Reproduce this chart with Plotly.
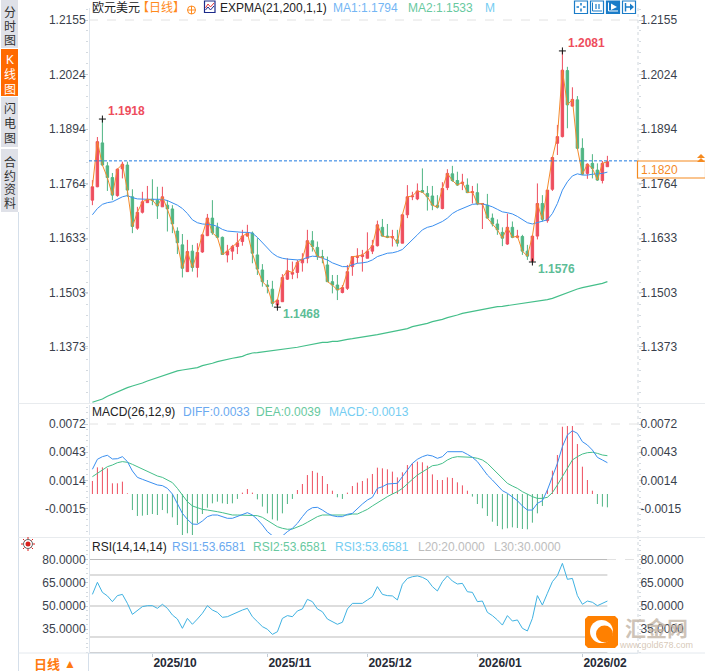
import plotly.graph_objects as go

W, H = 705, 671

opens = [
    1.1724, 1.1756, 1.1861, 1.1806, 1.1778, 1.1735, 1.1799, 1.1808, 1.1732, 1.1657,
    1.1695, 1.1718, 1.1726, 1.1724, 1.1708, 1.1712, 1.1703, 1.1650, 1.1617, 1.1553,
    1.1602, 1.1563, 1.1600, 1.1639, 1.1681, 1.1659, 1.1635, 1.1593, 1.1602, 1.1613,
    1.1625, 1.1638, 1.1645, 1.1593, 1.1557, 1.1521, 1.1511, 1.1473, 1.1481, 1.1535,
    1.1547, 1.1551, 1.1574, 1.1585, 1.1627, 1.1611, 1.1589, 1.1569, 1.1529, 1.1521,
    1.1503, 1.1513, 1.1565, 1.1587, 1.1589, 1.1585, 1.1602, 1.1615, 1.1659, 1.1638,
    1.1634, 1.1629, 1.1621, 1.1689, 1.1732, 1.1727, 1.1747, 1.1740, 1.1734, 1.1712,
    1.1704, 1.1754, 1.1787, 1.1771, 1.1764, 1.1760, 1.1742, 1.1742, 1.1714, 1.1712,
    1.1681, 1.1667, 1.1647, 1.1619, 1.1659, 1.1635, 1.1637, 1.1602, 1.1578, 1.1638,
    1.1716, 1.1675, 1.1750, 1.1860, 1.1876, 1.2034, 1.1949, 1.1964, 1.1848, 1.1788,
    1.1812, 1.1796, 1.1771, 1.1804,
]
highs = [
    1.1772, 1.1875, 1.1918, 1.1815, 1.1789, 1.1800, 1.1816, 1.1816, 1.1750, 1.1708,
    1.1744, 1.1758, 1.1774, 1.1756, 1.1756, 1.1724, 1.1712, 1.1659, 1.1643, 1.1629,
    1.1617, 1.1621, 1.1641, 1.1691, 1.1724, 1.1670, 1.1637, 1.1617, 1.1617, 1.1645,
    1.1653, 1.1665, 1.1649, 1.1633, 1.1571, 1.1533, 1.1531, 1.1487, 1.1547, 1.1585,
    1.1577, 1.1581, 1.1597, 1.1653, 1.1650, 1.1625, 1.1605, 1.1589, 1.1545, 1.1545,
    1.1521, 1.1569, 1.1589, 1.1609, 1.1605, 1.1647, 1.1629, 1.1675, 1.1679, 1.1667,
    1.1653, 1.1653, 1.1689, 1.1760, 1.1744, 1.1764, 1.1800, 1.1758, 1.1758, 1.1736,
    1.1767, 1.1798, 1.1806, 1.1792, 1.1787, 1.1776, 1.1758, 1.1764, 1.1716, 1.1739,
    1.1692, 1.1678, 1.1659, 1.1692, 1.1673, 1.1653, 1.1641, 1.1617, 1.1638, 1.1764,
    1.1736, 1.1748, 1.1828, 1.1904, 1.2081, 1.2043, 1.1994, 1.1973, 1.1872, 1.1812,
    1.1834, 1.1812, 1.1818, 1.1830,
]
lows = [
    1.1712, 1.1755, 1.1806, 1.1746, 1.1724, 1.1732, 1.1776, 1.1732, 1.1645, 1.1653,
    1.1692, 1.1718, 1.1712, 1.1679, 1.1708, 1.1649, 1.1645, 1.1595, 1.1539, 1.1553,
    1.1553, 1.1539, 1.1598, 1.1638, 1.1641, 1.1633, 1.1593, 1.1575, 1.1581, 1.1595,
    1.1615, 1.1637, 1.1573, 1.1545, 1.1517, 1.1501, 1.1469, 1.1468, 1.1481, 1.1533,
    1.1535, 1.1537, 1.1553, 1.1573, 1.1601, 1.1581, 1.1573, 1.1529, 1.1501, 1.1485,
    1.1501, 1.1509, 1.1543, 1.1573, 1.1553, 1.1585, 1.1595, 1.1613, 1.1637, 1.1633,
    1.1613, 1.1613, 1.1621, 1.1681, 1.1724, 1.1724, 1.1742, 1.1699, 1.1700, 1.1704,
    1.1702, 1.1748, 1.1768, 1.1758, 1.1748, 1.1742, 1.1716, 1.1712, 1.1655, 1.1681,
    1.1661, 1.1641, 1.1614, 1.1617, 1.1633, 1.1633, 1.1593, 1.1581, 1.1576, 1.1630,
    1.1673, 1.1670, 1.1746, 1.1832, 1.1874, 1.1896, 1.1948, 1.1846, 1.1784, 1.1775,
    1.1776, 1.1770, 1.1764, 1.1804,
]
closes = [
    1.1756, 1.1864, 1.1808, 1.1778, 1.1736, 1.1798, 1.1810, 1.1748, 1.1661, 1.1695,
    1.1720, 1.1726, 1.1724, 1.1710, 1.1732, 1.1703, 1.1667, 1.1622, 1.1561, 1.1601,
    1.1563, 1.1599, 1.1641, 1.1681, 1.1646, 1.1635, 1.1594, 1.1602, 1.1613, 1.1622,
    1.1638, 1.1645, 1.1597, 1.1559, 1.1529, 1.1517, 1.1477, 1.1485, 1.1539, 1.1555,
    1.1551, 1.1575, 1.1583, 1.1627, 1.1613, 1.1589, 1.1587, 1.1529, 1.1521, 1.1509,
    1.1515, 1.1553, 1.1589, 1.1590, 1.1593, 1.1602, 1.1615, 1.1665, 1.1638, 1.1635,
    1.1637, 1.1621, 1.1689, 1.1732, 1.1734, 1.1746, 1.1743, 1.1732, 1.1712, 1.1707,
    1.1752, 1.1788, 1.1771, 1.1760, 1.1767, 1.1742, 1.1744, 1.1715, 1.1716, 1.1681,
    1.1667, 1.1653, 1.1633, 1.1659, 1.1635, 1.1638, 1.1602, 1.1590, 1.1638, 1.1716,
    1.1678, 1.1748, 1.1826, 1.1876, 1.2035, 1.1952, 1.1965, 1.1848, 1.1786, 1.1810,
    1.1800, 1.1772, 1.1812, 1.1816,
]
ma1 = [
    1.1689, 1.1704, 1.1714, 1.1718, 1.1720, 1.1726, 1.1732, 1.1735, 1.1730, 1.1727,
    1.1726, 1.1726, 1.1726, 1.1726, 1.1726, 1.1723, 1.1718, 1.1712, 1.1704, 1.1692,
    1.1677, 1.1670, 1.1667, 1.1666, 1.1665, 1.1661, 1.1654, 1.1650, 1.1649, 1.1647,
    1.1647, 1.1647, 1.1645, 1.1635, 1.1622, 1.1609, 1.1597, 1.1589, 1.1585, 1.1583,
    1.1582, 1.1581, 1.1582, 1.1587, 1.1590, 1.1589, 1.1585, 1.1581, 1.1574, 1.1570,
    1.1565, 1.1565, 1.1569, 1.1573, 1.1574, 1.1576, 1.1581, 1.1589, 1.1593, 1.1597,
    1.1598, 1.1601, 1.1606, 1.1617, 1.1629, 1.1641, 1.1653, 1.1659, 1.1662, 1.1667,
    1.1673, 1.1681, 1.1692, 1.1699, 1.1704, 1.1708, 1.1714, 1.1715, 1.1715, 1.1712,
    1.1708, 1.1702, 1.1696, 1.1694, 1.1691, 1.1685, 1.1677, 1.1670, 1.1667, 1.1670,
    1.1673, 1.1677, 1.1692, 1.1716, 1.1748, 1.1768, 1.1782, 1.1787, 1.1784, 1.1784,
    1.1786, 1.1787, 1.1788, 1.1791,
]
ma2 = [
    1.12404, 1.12436, 1.12484, 1.12548, 1.12603, 1.12659, 1.12707, 1.12755, 1.12795, 1.12827,
    1.12866, 1.12914, 1.12954, 1.13010, 1.13050, 1.13082, 1.13130, 1.13154, 1.13177, 1.13193,
    1.13217, 1.13233, 1.13281, 1.13305, 1.13337, 1.13377, 1.13409, 1.13433, 1.13457, 1.13480,
    1.13504, 1.13552, 1.13584, 1.13592, 1.13608, 1.13624, 1.13632, 1.13656, 1.13672, 1.13672,
    1.13696, 1.13720, 1.13744, 1.13768, 1.13792, 1.13823, 1.13839, 1.13839, 1.13863, 1.13863,
    1.13895, 1.13911, 1.13926, 1.13942, 1.13966, 1.13982, 1.14006, 1.14022, 1.14046, 1.14070,
    1.14094, 1.14118, 1.14142, 1.14166, 1.14213, 1.14237, 1.14261, 1.14293, 1.14333, 1.14357,
    1.14389, 1.14429, 1.14453, 1.14492, 1.14532, 1.14556, 1.14580, 1.14604, 1.14628, 1.14652,
    1.14668, 1.14692, 1.14700, 1.14716, 1.14740, 1.14764, 1.14772, 1.14788, 1.14796, 1.14819,
    1.14835, 1.14859, 1.14891, 1.14939, 1.14979, 1.15019, 1.15067, 1.15114, 1.15146, 1.15170,
    1.15194, 1.15218, 1.15250, 1.15290,
]

macd_hist = [
    0.00134, 0.00274, 0.00274, 0.00264, 0.00110, 0.00110, 0.00127, 0.00007, -0.00165, -0.00226,
    -0.00223, -0.00216, -0.00206, -0.00216, -0.00165, -0.00199, -0.00240, -0.00319, -0.00432, -0.00404,
    -0.00439, -0.00302, -0.00206, -0.00141, -0.00096, -0.00079, -0.00096, -0.00103, -0.00096, -0.00051,
    0.00014, 0.00051, 0.00014, -0.00055, -0.00130, -0.00199, -0.00261, -0.00274, -0.00199, -0.00103,
    -0.00051, 0.00041, 0.00103, 0.00195, 0.00237, 0.00219, 0.00185, 0.00103, 0.00034, -0.00034,
    -0.00051, 0.00014, 0.00082, 0.00117, 0.00134, 0.00161, 0.00206, 0.00271, 0.00264, 0.00254,
    0.00230, 0.00171, 0.00223, 0.00298, 0.00315, 0.00333, 0.00326, 0.00291, 0.00202, 0.00144,
    0.00144, 0.00171, 0.00165, 0.00120, 0.00089, 0.00034, -0.00027, -0.00103, -0.00147, -0.00226,
    -0.00285, -0.00329, -0.00363, -0.00353, -0.00343, -0.00350, -0.00360, -0.00363, -0.00295, -0.00199,
    -0.00123, 0.00041, 0.00240, 0.00401, 0.00692, 0.00699, 0.00699, 0.00514, 0.00281, 0.00144,
    0.00034, -0.00103, -0.00130, -0.00137,
]
macd_diff = [
    0.00254, 0.00357, 0.00384, 0.00398, 0.00360, 0.00363, 0.00384, 0.00333, 0.00237, 0.00171,
    0.00151, 0.00134, 0.00110, 0.00093, 0.00086, 0.00058, 0.00000, -0.00096, -0.00199, -0.00261,
    -0.00309, -0.00312, -0.00278, -0.00233, -0.00216, -0.00216, -0.00233, -0.00250, -0.00250, -0.00233,
    -0.00209, -0.00192, -0.00216, -0.00261, -0.00319, -0.00387, -0.00429, -0.00439, -0.00432, -0.00387,
    -0.00353, -0.00302, -0.00233, -0.00171, -0.00141, -0.00137, -0.00165, -0.00199, -0.00223, -0.00233,
    -0.00233, -0.00209, -0.00199, -0.00147, -0.00103, -0.00062, -0.00034, 0.00058, 0.00075, 0.00103,
    0.00110, 0.00110, 0.00178, 0.00247, 0.00315, 0.00357, 0.00384, 0.00401, 0.00391, 0.00367,
    0.00384, 0.00435, 0.00435, 0.00435, 0.00435, 0.00408, 0.00377, 0.00333, 0.00264, 0.00195,
    0.00144, 0.00093, 0.00034, 0.00007, -0.00027, -0.00069, -0.00123, -0.00165, -0.00165, -0.00096,
    -0.00069, 0.00041, 0.00178, 0.00315, 0.00487, 0.00607, 0.00651, 0.00624, 0.00538, 0.00504,
    0.00452, 0.00377, 0.00350, 0.00322,
]
macd_dea = [
    0.00178, 0.00213, 0.00254, 0.00281, 0.00298, 0.00322, 0.00333, 0.00326, 0.00305, 0.00281,
    0.00254, 0.00230, 0.00206, 0.00185, 0.00171, 0.00144, 0.00117, 0.00058, -0.00010, -0.00079,
    -0.00123, -0.00141, -0.00158, -0.00165, -0.00171, -0.00182, -0.00192, -0.00206, -0.00216, -0.00216,
    -0.00216, -0.00216, -0.00216, -0.00223, -0.00240, -0.00274, -0.00309, -0.00336, -0.00353, -0.00363,
    -0.00360, -0.00343, -0.00319, -0.00291, -0.00261, -0.00233, -0.00216, -0.00216, -0.00216, -0.00223,
    -0.00223, -0.00216, -0.00206, -0.00206, -0.00182, -0.00158, -0.00123, -0.00089, -0.00062, -0.00027,
    0.00000, 0.00024, 0.00058, 0.00110, 0.00151, 0.00195, 0.00230, 0.00264, 0.00291, 0.00298,
    0.00315, 0.00350, 0.00374, 0.00384, 0.00384, 0.00384, 0.00377, 0.00367, 0.00350, 0.00315,
    0.00264, 0.00213, 0.00161, 0.00110, 0.00082, 0.00058, 0.00024, -0.00003, -0.00027, -0.00045,
    -0.00045, -0.00034, 0.00014, 0.00093, 0.00178, 0.00264, 0.00350, 0.00384, 0.00411, 0.00425,
    0.00429, 0.00418, 0.00401, 0.00394,
]
rsi = [
    57.5, 65.3, 58.8, 56.5, 52.8, 56.7, 57.5, 51.7, 44.6, 47.4,
    49.6, 50.2, 50.2, 48.5, 51.1, 48.5, 44.2, 41.6, 35.6, 42.0,
    38.2, 41.6, 45.3, 50.2, 47.4, 45.9, 42.7, 43.1, 44.6, 45.7,
    47.4, 48.5, 43.1, 39.9, 36.7, 35.0, 31.7, 33.4, 42.0, 43.8,
    43.1, 46.8, 48.1, 54.3, 52.8, 48.1, 46.3, 41.6, 39.9, 38.2,
    39.5, 48.1, 51.7, 51.7, 51.7, 53.9, 56.0, 62.5, 57.5, 56.7,
    56.5, 53.9, 64.0, 67.8, 68.9, 69.4, 68.5, 66.8, 62.5, 59.7,
    65.7, 69.4, 66.1, 64.2, 64.6, 59.2, 58.8, 52.8, 53.2, 45.9,
    43.8, 41.0, 37.7, 43.8, 40.3, 41.0, 35.6, 33.9, 42.0, 56.7,
    50.6, 58.2, 65.7, 69.6, 77.5, 67.2, 67.8, 56.7, 51.1, 53.2,
    52.4, 50.2, 51.7, 53.2,
]
rsi_levels = [80, 70, 50, 30, 20]

bars = list(range(len(closes)))

price_ticks = [1.2155, 1.2024, 1.1894, 1.1764, 1.1633, 1.1503, 1.1373]
macd_ticks = [0.0072, 0.0043, 0.0014, -0.0015]
rsi_ticks = [80, 65, 50, 35]
month_bars = [12, 35, 55, 77, 98]
month_labels = ["2025/10", "2025/11", "2025/12", "2026/01", "2026/02"]
last_price = 1.1818

RED = "#ee4d5d"
GREEN = "#4fb583"
BLUE = "#3a8ff0"
ORANGE = "#f58a2c"
SKY = "#3fb2e2"
AXIS = "#dfe6ee"
TICK = "#c4ccd4"
TEXT = "#3a3f4c"
FONT = "Liberation Sans, Noto Sans CJK SC"


def px(x):
    return x / W


def py(y):
    return 1 - y / H


shapes = []
notes = []


def note(x, y, text, color="#222222", size=12, anchor="left", bold=False):
    if bold:
        text = f"<b>{text}</b>"
    notes.append(dict(
        x=px(x), y=py(y), xref="paper", yref="paper", text=text, showarrow=False,
        xanchor=anchor, yanchor="middle", borderpad=0,
        font=dict(family=FONT, size=size, color=color),
    ))


def rect(x0, y0, x1, y1, fill=None, line=None, width=1):
    shapes.append(dict(
        type="rect", xref="paper", yref="paper", x0=px(x0), x1=px(x1), y0=py(y0), y1=py(y1),
        fillcolor=fill or "rgba(0,0,0,0)", line=dict(color=line or "rgba(0,0,0,0)", width=width),
    ))


def seg(x0, y0, x1, y1, color, width=1, dash="solid"):
    shapes.append(dict(
        type="line", xref="paper", yref="paper", x0=px(x0), x1=px(x1), y0=py(y0), y1=py(y1),
        line=dict(color=color, width=width, dash=dash),
    ))


def poly(points, fill=None, line=None, width=1, close=True):
    d = "M" + " L".join(f"{px(a):.5f},{py(b):.5f}" for a, b in points) + (" Z" if close else "")
    shapes.append(dict(
        type="path", xref="paper", yref="paper", path=d,
        fillcolor=fill or "rgba(0,0,0,0)", line=dict(color=line or "rgba(0,0,0,0)", width=width),
    ))


def circle(cx, cy, r, fill=None, line=None, width=1):
    shapes.append(dict(
        type="circle", xref="paper", yref="paper",
        x0=px(cx - r), x1=px(cx + r), y0=py(cy - r), y1=py(cy + r),
        fillcolor=fill or "rgba(0,0,0,0)", line=dict(color=line or "rgba(0,0,0,0)", width=width),
    ))


fig = go.Figure()

# main panel
fig.add_trace(go.Candlestick(
    x=bars, open=opens, high=highs, low=lows, close=closes,
    xaxis="x", yaxis="y", whiskerwidth=0,
    increasing=dict(line=dict(color=RED, width=1), fillcolor=RED),
    decreasing=dict(line=dict(color=GREEN, width=1), fillcolor=GREEN),
))
fig.add_trace(go.Scatter(x=bars, y=ma2, mode="lines", yaxis="y2", line=dict(color="#45bf8a", width=1.2)))
fig.add_trace(go.Scatter(x=bars, y=ma1, mode="lines", yaxis="y2", line=dict(color=BLUE, width=1)))
fig.add_trace(go.Scatter(x=bars, y=closes, mode="lines", yaxis="y2", line=dict(color=ORANGE, width=1)))

extreme_bars = [2, 94, 37, 88]
extreme_vals = [highs[2], highs[94], lows[37], lows[88]]
fig.add_trace(go.Scatter(
    x=extreme_bars, y=extreme_vals, mode="markers", yaxis="y2",
    marker=dict(symbol="cross-thin", size=5, line=dict(color="#111111", width=1)),
))
for b, v, c, dy in zip(extreme_bars, extreme_vals, [RED, RED, "#5dbd97", "#5dbd97"], [8, 8, -7, -7]):
    notes.append(dict(
        x=b, y=v, xref="x", yref="y2", text=f"<b>{v:.4f}</b>", showarrow=False,
        xanchor="left", yanchor="middle", xshift=4, yshift=dy,
        font=dict(family=FONT, size=12, color=c),
    ))

# MACD panel, one thin stem per bar
for color, keep in ((RED, lambda v: v >= 0), (GREEN, lambda v: v < 0)):
    stem_x, stem_y = [], []
    for b, v in zip(bars, macd_hist):
        if keep(v):
            stem_x += [b, b, None]
            stem_y += [0, v, None]
    fig.add_trace(go.Scatter(x=stem_x, y=stem_y, mode="lines", yaxis="y3", line=dict(color=color, width=1)))
fig.add_trace(go.Scatter(x=bars, y=macd_dea, mode="lines", yaxis="y4", line=dict(color="#45bf8a", width=1)))
fig.add_trace(go.Scatter(x=bars, y=macd_diff, mode="lines", yaxis="y4", line=dict(color=BLUE, width=1)))

# RSI panel
for lvl in rsi_levels:
    fig.add_trace(go.Scatter(
        x=[-0.68, bars[-1]], y=[lvl, lvl], mode="lines", yaxis="y5",
        line=dict(color="#bcbcbc", width=1.2),
    ))
fig.add_trace(go.Scatter(x=bars, y=rsi, mode="lines", yaxis="y6", line=dict(color=SKY, width=1)))


def y_axis(domain, value_range, ticks, fmt, side, minor_step, **extra):
    cfg = dict(
        domain=[py(domain[1]), py(domain[0])], range=value_range, side=side, anchor="x",
        tickmode="array", tickvals=ticks, ticktext=[format(t, fmt) for t in ticks],
        showgrid=False, zeroline=False, showline=False,
        ticks="outside", ticklen=4, tickcolor=TICK, tickwidth=1,
        ticklabelstandoff=-4 if side == "left" else -5,
        minor=dict(
            tickmode="linear", tick0=ticks[0], dtick=minor_step,
            ticks="outside", ticklen=2, tickcolor="#d4dae0", tickwidth=1, showgrid=False,
        ),
        tickfont=dict(family=FONT, size=12, color=TEXT),
    )
    cfg.update(extra)
    return cfg


main_box = (8, 403)
main_range = [1.12387, 1.21837]
macd_box = (405, 535)
macd_range = [-0.004217, 0.009154]
rsi_box = (538, 653)
rsi_range = [19.68, 93.87]

fig.update_layout(
    width=W, height=H, autosize=False,
    margin=dict(l=0, r=0, t=0, b=0),
    paper_bgcolor="white", plot_bgcolor="white",
    showlegend=False, hovermode=False,
    xaxis=dict(
        domain=[px(89), px(638)], range=[-0.68, 109.12], anchor="y5",
        rangeslider=dict(visible=False), showgrid=False, zeroline=False,
        showline=True, linecolor=AXIS, linewidth=1,
        tickmode="array", tickvals=month_bars, ticktext=month_labels,
        ticks="outside", ticklen=3, tickcolor=TICK,
        ticklabelposition="outside right", ticklabelstandoff=-1,
        tickfont=dict(family=FONT, size=12, color="#252a36", weight="bold"),
    ),
    yaxis=y_axis(main_box, main_range, price_ticks, ".4f", "left", 0.00262),
    yaxis2=y_axis(main_box, main_range, price_ticks, ".4f", "right", 0.00262, overlaying="y"),
    yaxis3=y_axis(macd_box, macd_range, macd_ticks, ".4f", "left", 0.00058),
    yaxis4=y_axis(macd_box, macd_range, macd_ticks, ".4f", "right", 0.00058, overlaying="y3"),
    yaxis5=y_axis(rsi_box, rsi_range, rsi_ticks, ".4f", "left", 3),
    yaxis6=y_axis(rsi_box, rsi_range, rsi_ticks, ".4f", "right", 3, overlaying="y5"),
)

# frame and panel separators
seg(89.5, 8, 89.5, 403, AXIS)
seg(89.5, 405, 89.5, 535, AXIS)
seg(89.5, 538, 89.5, 653, AXIS)
seg(638, 8, 638, 653, "#cfd6dc", 1, "dot")
seg(18.5, 212, 18.5, 671, "#d5dfea")
seg(18.5, 403.5, 705, 403.5, "#e8ebee")
seg(18.5, 537.5, 705, 537.5, "#e8ebee")
seg(18.5, 653, 705, 653, "#e4e9ee")
seg(88.5, 653, 88.5, 671, "#d5dfea")

# dashed guide lines
seg(89, 20, 638, 20, "#e2e2e2", 1, "dash")
seg(89, 424, 638, 424, "#e2e2e2", 1, "dash")
seg(607, 559.5, 638, 559.5, "#e2e2e2", 1, "dash")

# last price line, box and arrow
shapes.append(dict(
    type="line", xref="paper", yref="y2", x0=px(89), x1=px(638), y0=last_price, y1=last_price,
    line=dict(color="#1f7ae0", width=1, dash="3px,2px"),
))
rect(637.5, 161, 705.5, 178, fill="white", line="#f58a1f", width=1.2)
note(640, 170, "1.1820", "#f58a1f")
poly([(697, 158), (701, 154), (705, 158)], fill="#f58a1f")
poly([(697, 162), (701, 158), (705, 162)], fill="#f58a1f")

# side tabs
rect(1, 0, 18, 48, fill="#dfe1e8")
rect(1, 49, 18, 96, fill="#ff6a00")
rect(1, 97, 18, 147, fill="#dfe1e8")
rect(1, 149, 18, 212, fill="#dfe1e8")
tab_chars = [
    ("分时图", 13, 14, "#333333"),
    ("K线图", 60, 15, "#ffffff"),
    ("闪电图", 109, 15, "#333333"),
    ("合约资料", 162, 14, "#333333"),
]
for chars, start, step, color in tab_chars:
    for k, ch in enumerate(chars):
        note(9.5, start + k * step, ch, color, 12, "center")

# header row
note(90.5, 8, "欧元美元", "#222222")
note(136, 8, "【日线】", "#ff8a1c")
circle(191.5, 10, 4, line="#ff8a1c")
seg(187.5, 10, 195.5, 10, "#ff8a1c")
seg(191.5, 6, 191.5, 14, "#ff8a1c")
rect(204.5, 1, 215, 12.5, fill="white", line="#1b2a8a", width=1.2)
poly([(205.5, 8), (208, 4), (210.5, 7), (214, 3)], line="#e2383f", close=False)
poly([(205.5, 10), (208, 7), (210.5, 10), (214, 6)], line="#1b2a8a", close=False)
note(219, 8, "EXPMA(21,200,1,1)", "#222222")
note(331.5, 8, "MA1:1.1794", "#74b6f4")
note(407, 8, "MA2:1.1533", "#68c9a0")
note(484, 8, "M", "#74cdf2")

# tool buttons
ICON = "#1a7cc8"
rect(574.5, 1, 587.5, 13.5, fill="white", line=ICON, width=1.2)
seg(581, 3, 581, 5.5, ICON, 1.5)
seg(581, 8.5, 581, 11.5, ICON, 1.5)
seg(576.5, 7, 579, 7, ICON, 1.5)
seg(583, 7, 585.5, 7, ICON, 1.5)
rect(590.5, 1, 603.5, 13.5, fill="white", line=ICON, width=1.2)
poly([(592.5, 2.5), (592.5, 11), (602, 11)], line=ICON, close=False)
seg(596, 4, 596, 9, ICON, 1.2)
seg(599, 4, 599, 9, ICON, 1.2)
rect(606.5, 1, 619.5, 13.5, fill=ICON, line=ICON, width=1.2)
poly([(608.5, 2.5), (608.5, 11), (618, 11)], line="white", close=False)
poly([(611, 3.5), (617, 7), (611, 10)], fill="white")
rect(622.5, 1, 635.5, 13.5, fill="white", line=ICON, width=1.2)
seg(625.5, 3, 625.5, 11.5, ICON, 1.5)
poly([(630, 3.5), (634, 7), (630, 10.5)], fill=ICON)
seg(626, 7, 631, 7, ICON, 1.5)

# indicator legends
note(90.5, 412, "MACD(26,12,9)", "#222222")
note(181.5, 412, "DIFF:0.0033", "#6aa9f0")
note(255, 412, "DEA:0.0039", "#68c9a0")
note(328, 412, "MACD:-0.0013", "#74cdf2")
note(90.5, 547, "RSI(14,14,14)", "#222222")
note(170.5, 547, "RSI1:53.6581", "#6aa9f0")
note(252, 547, "RSI2:53.6581", "#68c9a0")
note(334, 547, "RSI3:53.6581", "#74cdf2")
note(416.5, 547, "L20:20.0000", "#bdbdbd")
note(492.5, 547, "L30:30.0000", "#bdbdbd")

# sun toggle
circle(28, 544, 2.5, fill="#d8201c")
circle(28, 544, 4.5, line="#222222", width=0.7)
for a, b, c, d in [(28, 537, 28, 539), (28, 549, 28, 551), (21, 544, 23, 544), (33, 544, 35, 544),
                   (23, 539, 24.5, 540.5), (31.5, 547.5, 33, 549), (33, 539, 31.5, 540.5), (24.5, 547.5, 23, 549)]:
    seg(a, b, c, d, "#e0201c", 1)

# period selector
note(33, 664, "日线", "#ff7a10", 13, bold=True)
note(62.5, 664, "▲", "#ff7a10", 12)

# watermark
shapes.append(dict(
    type="path", xref="paper", yref="paper", fillcolor="#ff8000", line=dict(width=0),
    path=("M" + " L".join(f"{px(a):.5f},{py(b):.5f}" for a, b in [
        (588, 616), (615, 616), (618, 619), (618, 645), (615, 648), (588, 648), (585, 645), (585, 619),
    ]) + " Z"),
))
circle(601.5, 631.5, 11.5, fill="white")
circle(604.5, 634, 8.5, fill="#ff8000")
note(656, 628, "汇金网", "rgba(190,175,160,0.75)", 21, "center", bold=True)
note(656, 645, "www.gold678.com", "rgba(205,185,165,0.8)", 9, "center")

fig.update_layout(shapes=shapes, annotations=notes)

fig.write_html(
    "out.html",
    config=dict(displayModeBar=False),
    post_script="document.body.style.margin='0';document.body.style.overflow='hidden';",
)
